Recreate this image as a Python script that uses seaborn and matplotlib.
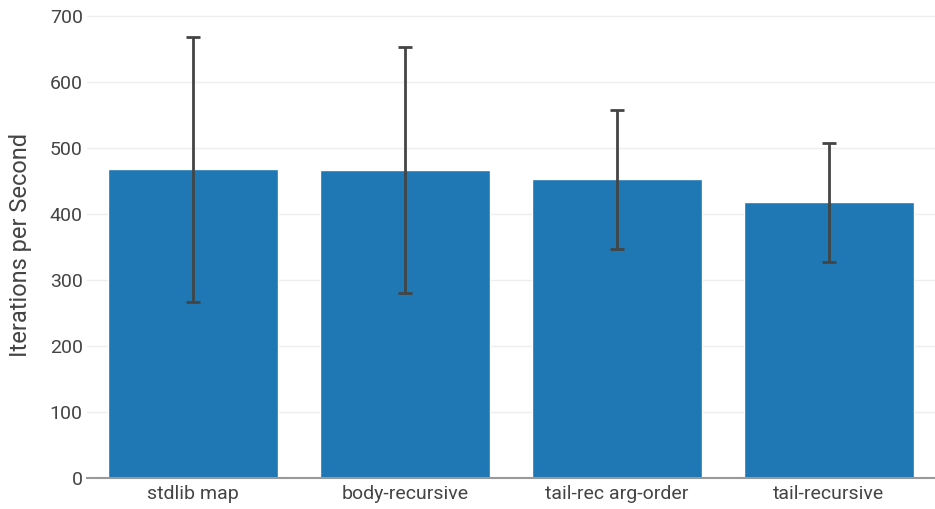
import pandas as pd
import matplotlib.pyplot as plt
import seaborn as sns

# ------------------- Data -------------------
labels = ["stdlib map", "body-recursive", "tail-rec arg-order", "tail-recursive"]
ips = [467, 466, 452, 417]
ips_err = [200, 186, 105, 90]

df = pd.DataFrame({"Function": labels, "IPS": ips, "Err": ips_err})

# ------------------- Plot -------------------
sns.set_style("white")
plt.rcParams["font.family"] = ["Roboto", "DejaVu Sans"]

fig = plt.figure(figsize=(9.35, 5.09), dpi=100)
ax = fig.add_axes([0.093, 0.061, 0.907, 0.915])

sns.barplot(data=df, x="Function", y="IPS", color="#1f77b4", saturation=1,
            width=0.8, errorbar=None, ax=ax, zorder=2)
ax.errorbar(ax.get_xticks(), df["IPS"], yerr=df["Err"], fmt="none",
            ecolor="#444444", elinewidth=2, capsize=5, capthick=2, zorder=3)

ax.set_xlim(-0.5, 3.5)
ax.set_ylim(0, 705)
ax.set_yticks(range(0, 701, 100))
ax.grid(axis="y", color="#eeeeee", linewidth=1, zorder=0)
ax.set_axisbelow(True)

for s in ["top", "right", "left"]:
    ax.spines[s].set_visible(False)
ax.spines["bottom"].set_color("#999999")
ax.spines["bottom"].set_linewidth(1.5)

ax.set_xlabel("")
ax.set_ylabel("Iterations per Second", fontsize=17, color="#444444", labelpad=13)
ax.tick_params(axis="y", length=0, labelsize=14, colors="#444444", pad=3)
ax.tick_params(axis="x", length=0, labelsize=14, colors="#444444", pad=5)

fig.savefig("out.png", dpi=100)
